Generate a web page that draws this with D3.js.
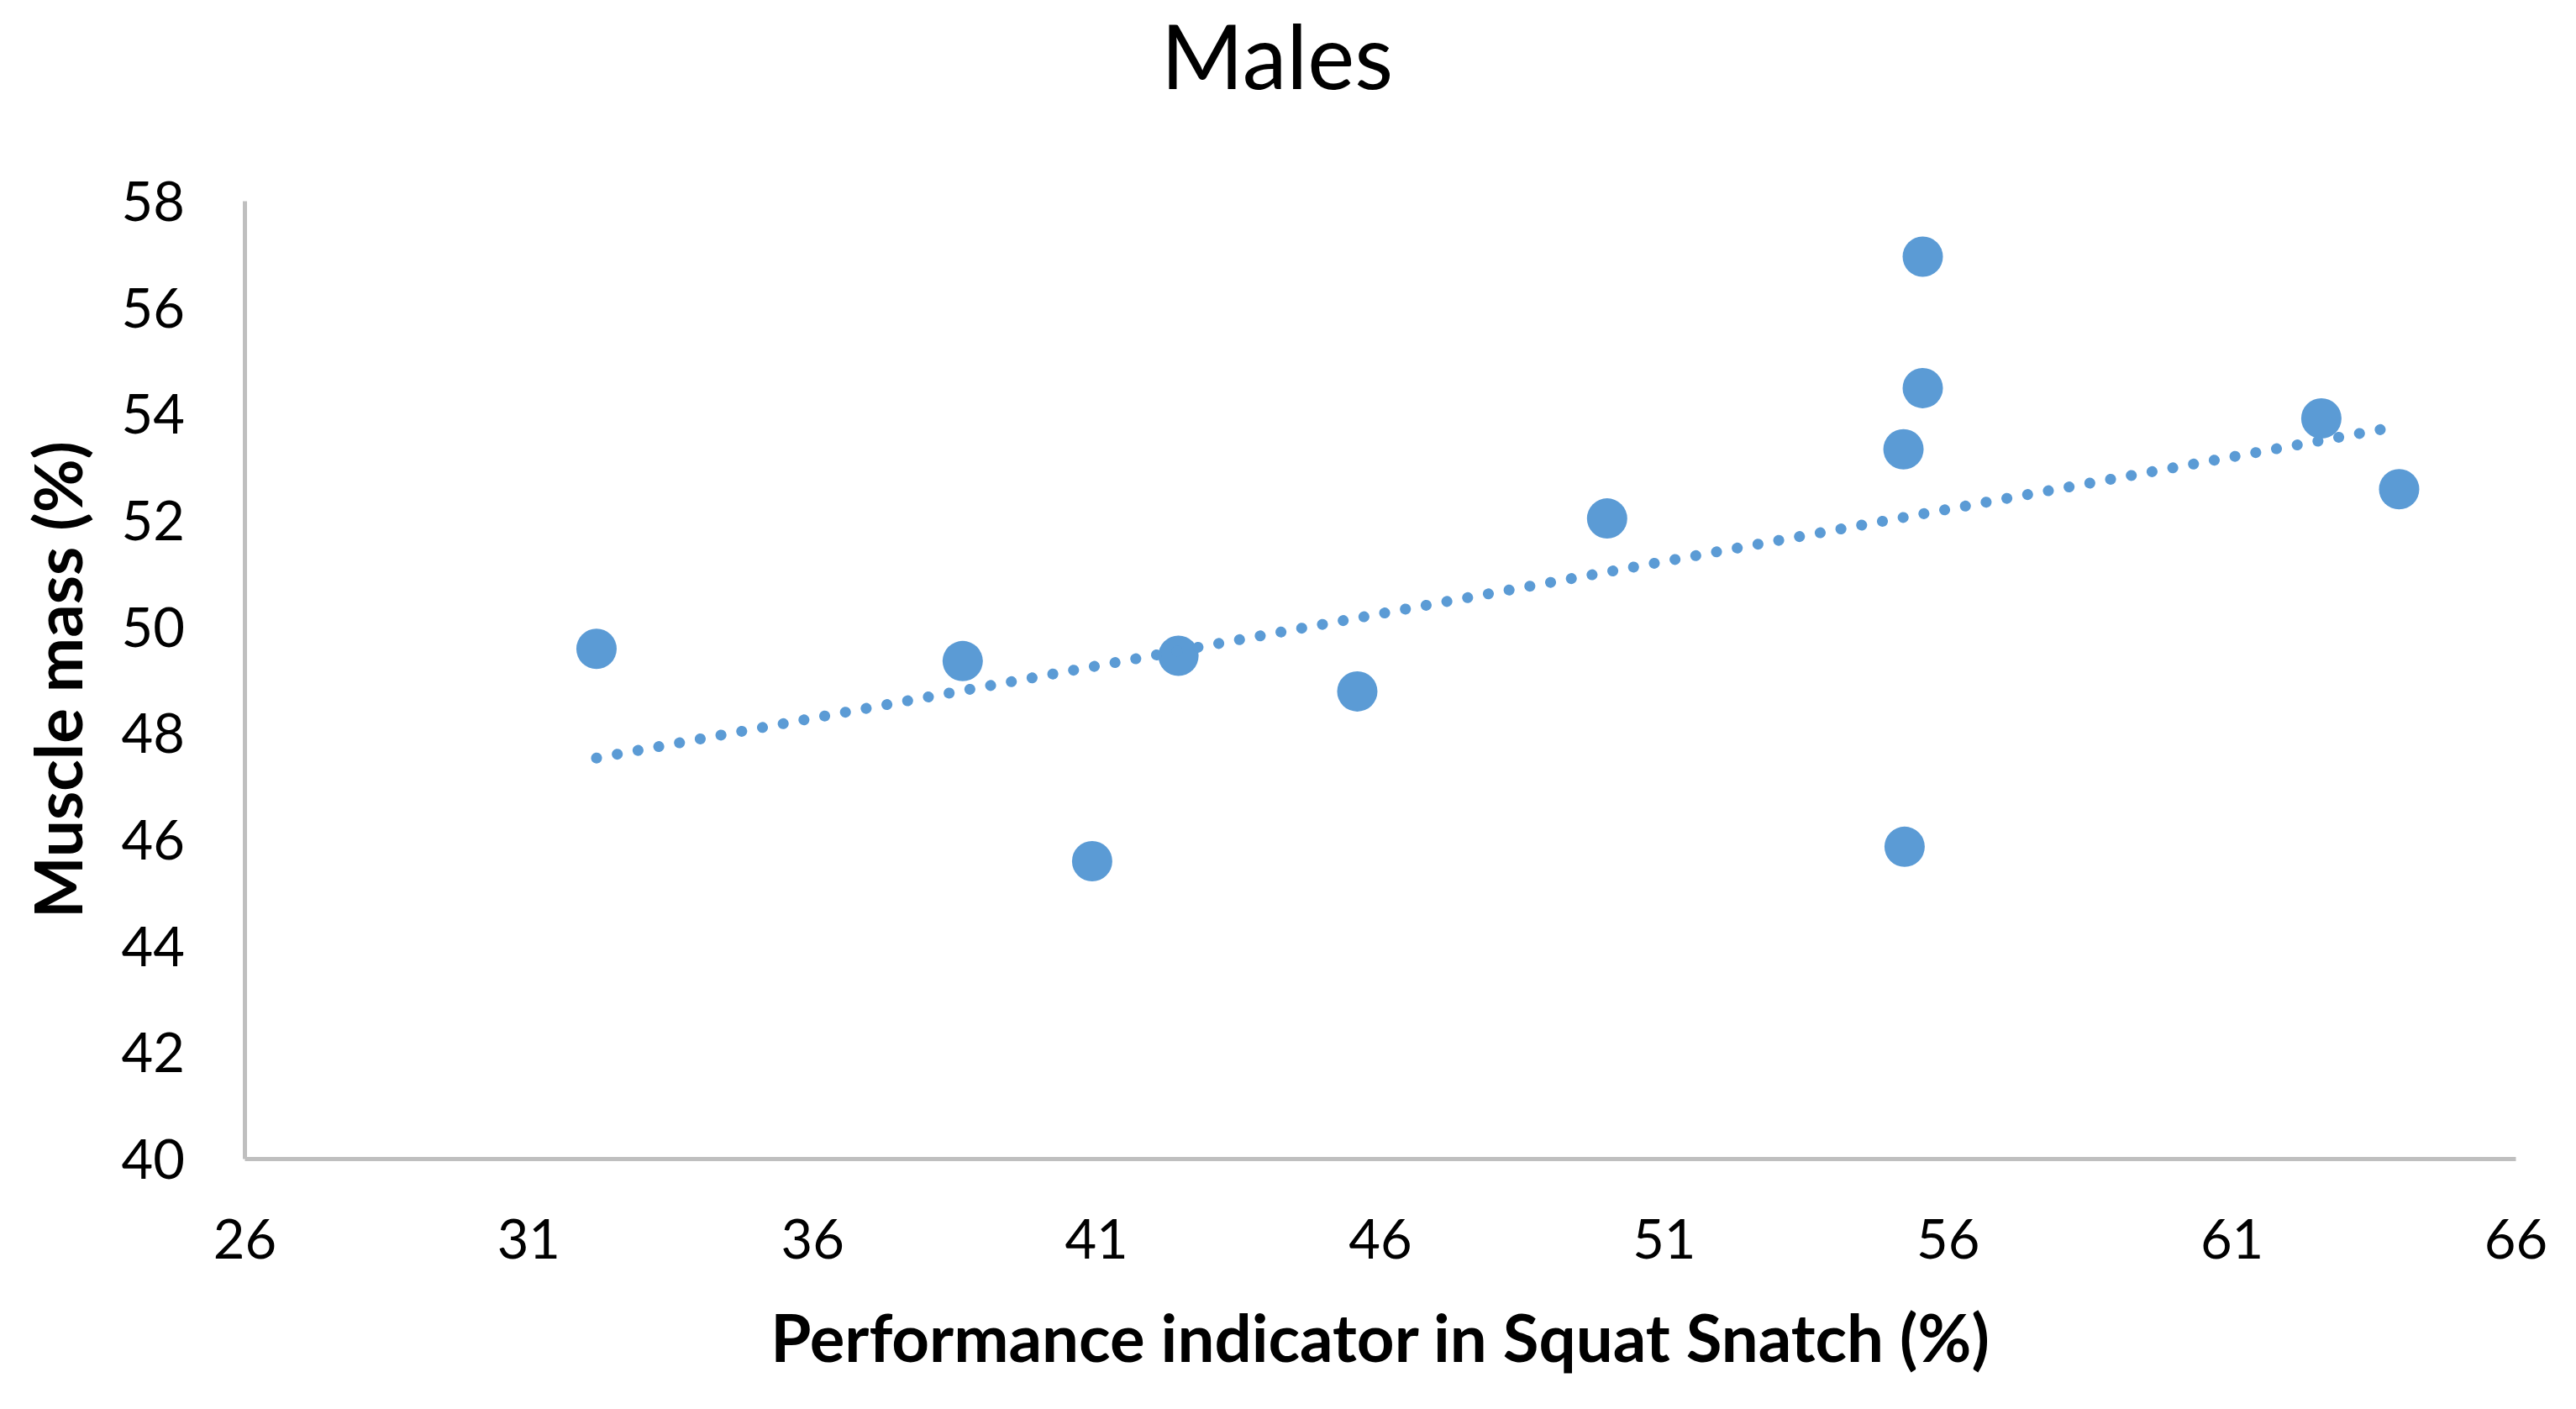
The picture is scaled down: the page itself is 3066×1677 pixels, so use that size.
<!DOCTYPE html>
<html>
<head>
<meta charset="utf-8">
<script src="https://cdn.jsdelivr.net/npm/d3@7"></script>
<style>
  body { margin: 0; background: #fff; }
  svg { display: block; }
</style>
</head>
<body>
<div id="chart"></div>
<script>
// values
const snatch = [32.2, 38.65, 42.45, 55.56, 55.56, 55.22, 50.0, 62.58, 63.95, 45.6, 40.93, 55.24];
const muscle = [49.58, 49.35, 49.45, 56.95, 54.48, 53.33, 52.03, 53.91, 52.58, 48.78, 45.59, 45.86];
const xTicks = [26, 31, 36, 41, 46, 51, 56, 61, 66];
const yTicks = [40, 42, 44, 46, 48, 50, 52, 54, 56, 58];

const chartTitle = "Males";
const xTitle = "Performance indicator in Squat Snatch (%)";
const yTitle = "Muscle mass (%)";

function createChart() {
  const width = 3066;
  const height = 1677;
  const font = "Lato, 'Open Sans', sans-serif";
  const blue = "#5B9BD5";
  const axisColor = "#BFBFBF";

  const margin = { top: 239, right: 72, bottom: 298, left: 291 };

  const x = d3.scaleLinear()
    .domain([26, 66])
    .range([margin.left, width - margin.right]);
  const y = d3.scaleLinear()
    .domain([40, 58])
    .range([height - margin.bottom, margin.top]);

  const svg = d3.select("#chart")
    .append("svg")
    .attr("width", width)
    .attr("height", height)
    .style("font-family", font);

  svg.append("rect")
    .attr("width", width)
    .attr("height", height)
    .attr("fill", "#fff");

  // axes: only the grey lines, labels drawn by the axis generator
  const xAxis = svg.append("g")
    .attr("transform", `translate(0,${y(40)})`)
    .call(d3.axisBottom(x).tickValues(xTicks).tickSize(0).tickPadding(119).tickFormat(d3.format("d")));
  const yAxis = svg.append("g")
    .attr("transform", `translate(${x(26)},0)`)
    .call(d3.axisLeft(y).tickValues(yTicks).tickSize(0).tickPadding(71).tickFormat(d3.format("d")));

  [xAxis, yAxis].forEach((g) => {
    g.select(".domain").attr("stroke", axisColor).attr("stroke-width", 5);
    g.selectAll("text")
      .attr("fill", "#000")
      .style("font-size", "65px")
      .style("font-family", font);
  });
  yAxis.selectAll("text").attr("dy", "0.36em");
  xAxis.selectAll("text").attr("dy", "0");

  const points = snatch.map((v, i) => ({ x: v, y: muscle[i] }));

  svg.append("g")
    .selectAll("circle")
    .data(points)
    .join("circle")
    .attr("cx", (d) => x(d.x))
    .attr("cy", (d) => y(d.y))
    .attr("r", 24)
    .attr("fill", blue);

  // linear trendline (least squares) over the data range
  const mx = d3.mean(snatch);
  const my = d3.mean(muscle);
  const slope = d3.sum(points, (d) => (d.x - mx) * (d.y - my)) /
    d3.sum(points, (d) => (d.x - mx) ** 2);
  const fit = (v) => my + slope * (v - mx);
  const [lo, hi] = d3.extent(snatch);

  svg.append("line")
    .attr("x1", x(lo))
    .attr("y1", y(fit(lo)))
    .attr("x2", x(hi))
    .attr("y2", y(fit(hi)))
    .attr("stroke", blue)
    .attr("stroke-width", 13)
    .attr("stroke-linecap", "round")
    .attr("stroke-dasharray", "0.1 25");

  svg.append("text")
    .attr("x", 1520)
    .attr("y", 106)
    .attr("text-anchor", "middle")
    .style("font-size", "106px")
    .text(chartTitle);

  svg.append("text")
    .attr("x", (x(26) + x(66)) / 2)
    .attr("y", 1621)
    .attr("text-anchor", "middle")
    .style("font-size", "78px")
    .style("font-weight", "bold")
    .text(xTitle);

  svg.append("text")
    .attr("transform", `translate(98,${(y(40) + y(58)) / 2}) rotate(-90)`)
    .attr("text-anchor", "middle")
    .style("font-size", "78px")
    .style("font-weight", "bold")
    .text(yTitle);
}

document.addEventListener("DOMContentLoaded", createChart);
</script>
</body>
</html>
